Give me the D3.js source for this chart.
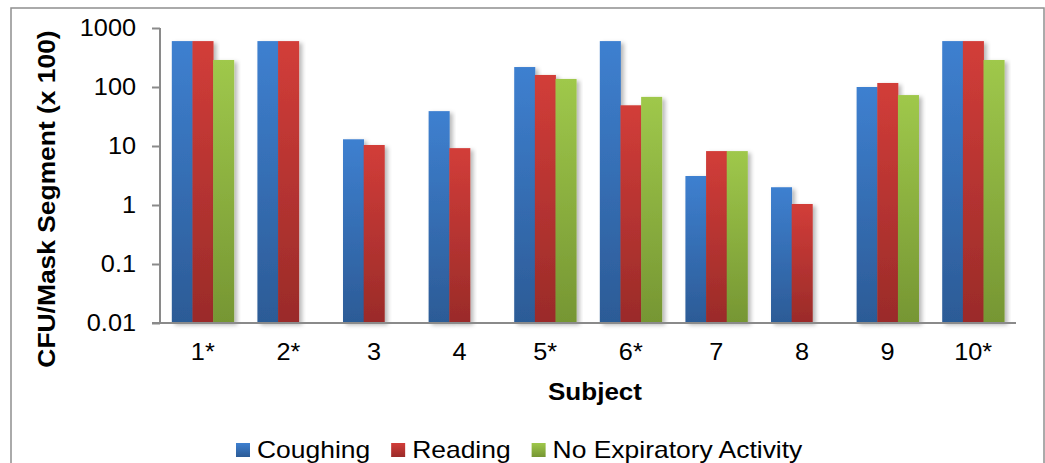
<!DOCTYPE html>
<html>
<head>
<meta charset="utf-8">
<script src="https://cdn.jsdelivr.net/npm/d3@7"></script>
<style>
  html, body { margin: 0; padding: 0; background: #fff; }
  text { font-family: "Liberation Sans", Arial, sans-serif; fill: #000; }
</style>
</head>
<body>
<div id="chart"></div>
<script>
/* Data */
const subjects = ["1*", "2*", "3", "4", "5*", "6*", "7", "8", "9", "10*"]
const seriesNames = ["Coughing", "Reading", "No Expiratory Activity"]
const coughing = [600, 600, 13, 39, 218, 600, 3.1, 2, 100, 600]
const reading = [600, 600, 10.4, 9.2, 160, 49, 8.2, 1.04, 117, 600]
const noActivity = [287, null, null, null, 137, 68, 8.2, null, 73, 287]
const yTicks = [0.01, 0.1, 1, 10, 100, 1000]
const yTickLabels = ["0.01", "0.1", "1", "10", "100", "1000"]

/* Layout */
const WIDTH = 1045
const HEIGHT = 463
const PLOT = {"LEFT": 160, "RIGHT": 1016, "TOP": 28, "BOTTOM": 323}
const STRETCH = 1.1
const COLORS = [
  {"top": "#3e80d0", "bottom": "#2c5b96"},
  {"top": "#d23d39", "bottom": "#9a2b29"},
  {"top": "#9fc84b", "bottom": "#769633"}
]

const svg = d3.select("#chart")
              .append("svg")
              .attr("width", WIDTH)
              .attr("height", HEIGHT);

const defs = svg.append("defs");
COLORS.forEach((c, i) => {
  const g = defs.append("linearGradient")
                .attr("id", "grad" + i)
                .attr("x1", 0).attr("y1", 0).attr("x2", 0).attr("y2", 1);
  g.append("stop").attr("offset", "0%").attr("stop-color", c.top);
  g.append("stop").attr("offset", "100%").attr("stop-color", c.bottom);
});
const shadow = defs.append("filter")
                   .attr("id", "shadow")
                   .attr("x", "-20%").attr("y", "-10%")
                   .attr("width", "150%").attr("height", "130%");
shadow.append("feDropShadow")
      .attr("dx", 3).attr("dy", 2)
      .attr("stdDeviation", 2)
      .attr("flood-color", "#000")
      .attr("flood-opacity", 0.28);

/* chart frame */
svg.append("rect")
   .attr("x", 11).attr("y", 8)
   .attr("width", 1033).attr("height", 470)
   .attr("fill", "#fff")
   .attr("stroke", "#8f8f8f")
   .attr("stroke-width", 1.5);

/* Scales */
const x = d3.scaleBand()
            .domain(subjects)
            .range([PLOT.LEFT, PLOT.RIGHT])
            .paddingInner(0.276)
            .paddingOuter(0.138);
const xs = d3.scaleBand()
             .domain(seriesNames)
             .range([0, x.bandwidth()]);
const y = d3.scaleLog()
            .domain([0.01, 1000])
            .range([PLOT.BOTTOM, PLOT.TOP]);

/* Bars */
const table = subjects.map((s, i) => ({
  "subject": s,
  "values": [coughing[i], reading[i], noActivity[i]]
}));

const groups = svg.append("g")
                  .selectAll("g")
                  .data(table)
                  .enter()
                  .append("g")
                  .attr("transform", (d) => "translate(" + x(d.subject) + ",0)");

groups.selectAll("rect")
      .data((d) => d.values.map((v, j) => ({"name": seriesNames[j], "value": v, "j": j})).filter((e) => e.value != null))
      .enter()
      .append("rect")
      .attr("x", (d) => xs(d.name))
      .attr("width", xs.bandwidth() + 0.4)
      .attr("y", (d) => y(d.value))
      .attr("height", (d) => PLOT.BOTTOM - y(d.value))
      .attr("fill", (d) => "url(#grad" + d.j + ")")
      .attr("filter", "url(#shadow)");

/* Axes */
const yAxis = d3.axisLeft(y)
                .tickValues(yTicks)
                .tickFormat((d, i) => yTickLabels[i])
                .tickSize(8)
                .tickPadding(16);
const gy = svg.append("g")
              .attr("transform", "translate(" + PLOT.LEFT + ",0)")
              .call(yAxis);
gy.select(".domain").attr("stroke", "#8a8a8a").attr("stroke-width", 2);
gy.selectAll(".tick line").attr("stroke", "#8a8a8a").attr("stroke-width", 2);
gy.selectAll(".tick text")
  .attr("font-size", 23)
  .attr("font-family", "Liberation Sans, Arial, sans-serif")
  .attr("text-anchor", "end")
  .attr("transform", function() {
    const tx = +d3.select(this).attr("x");
    return "translate(" + tx + ",0) scale(" + STRETCH + ",1) translate(" + (-tx) + ",0)";
  });
gy.select(".domain").attr("d", "M0," + PLOT.TOP + "V" + PLOT.BOTTOM);

const xAxis = d3.axisBottom(x)
                .tickSize(0)
                .tickPadding(21);
const gx = svg.append("g")
              .attr("transform", "translate(0," + PLOT.BOTTOM + ")")
              .call(xAxis);
gx.select(".domain").attr("stroke", "#8a8a8a").attr("stroke-width", 2)
  .attr("d", "M" + (PLOT.LEFT - 8) + ",0H" + PLOT.RIGHT);
gx.selectAll(".tick text")
  .attr("font-size", 23)
  .attr("font-family", "Liberation Sans, Arial, sans-serif")
  .attr("transform", "scale(" + STRETCH + ",1)")
  .attr("x", 0);

/* Axis titles */
svg.append("text")
   .attr("transform", "translate(595,400) scale(1.085,1)")
   .attr("text-anchor", "middle")
   .attr("font-size", 24)
   .attr("font-weight", "bold")
   .text("Subject");

svg.append("text")
   .attr("transform", "translate(38,199) rotate(-90) scale(1.1,1)")
   .attr("text-anchor", "middle")
   .attr("font-size", 24)
   .attr("font-weight", "bold")
   .attr("dy", "0.72em")
   .text("CFU/Mask Segment (x 100)");

/* Legend */
const legend = svg.append("g");
let lx = 236;
seriesNames.forEach((name, i) => {
  legend.append("rect")
        .attr("x", lx).attr("y", 443)
        .attr("width", 14).attr("height", 14)
        .attr("fill", "url(#grad" + i + ")");
  const t = legend.append("text")
                  .attr("transform", "translate(" + (lx + 21) + ",458) scale(1.15,1)")
                  .attr("font-size", 23)
                  .text(name);
  lx += 21 + t.node().getComputedTextLength() * 1.15 + 21;
});
</script>
</body>
</html>
